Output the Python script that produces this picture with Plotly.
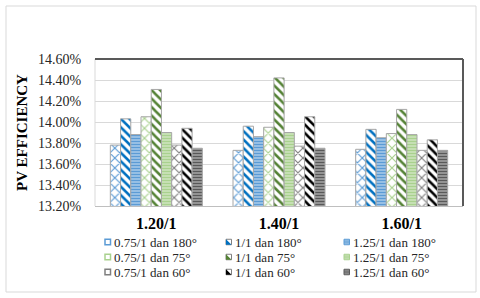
import plotly.graph_objects as go

# ---------------- data ----------------
categories = ["1.20/1", "1.40/1", "1.60/1"]
series_names = ["0.75/1 dan 180°", "1/1 dan 180°", "1.25/1 dan 180°",
                "0.75/1 dan 75°", "1/1 dan 75°", "1.25/1 dan 75°",
                "0.75/1 dan 60°", "1/1 dan 60°", "1.25/1 dan 60°"]
eff_075_180 = [13.78, 13.73, 13.74]
eff_1_180 = [14.03, 13.96, 13.93]
eff_125_180 = [13.88, 13.86, 13.85]
eff_075_75 = [14.05, 13.95, 13.89]
eff_1_75 = [14.31, 14.42, 14.12]
eff_125_75 = [13.90, 13.90, 13.88]
eff_075_60 = [13.78, 13.77, 13.73]
eff_1_60 = [13.94, 14.05, 13.83]
eff_125_60 = [13.75, 13.75, 13.73]
series_values = [eff_075_180, eff_1_180, eff_125_180,
                 eff_075_75, eff_1_75, eff_125_75,
                 eff_075_60, eff_1_60, eff_125_60]
y_tick_values = [13.2, 13.4, 13.6, 13.8, 14.0, 14.2, 14.4, 14.6]
y_tick_labels = [f"{v:.2f}%" for v in y_tick_values]
y_title = "PV EFFICIENCY"

# ---------------- styles ----------------
# (pattern shape, fg colour, bg colour, pattern size, solidity)
styles = [
    ("x", "#5B9BD5", "#FFFFFF", 7, 0.3),
    ("\\", "#0070C0", "#FFFFFF", 6, 0.42),
    ("-", "#5B9BD5", "#A9CBEA", 3, 0.5),
    ("x", "#A9D18E", "#FFFFFF", 7, 0.3),
    ("\\", "#548235", "#FFFFFF", 6, 0.42),
    ("-", "#A9D18E", "#CFE4C0", 3, 0.5),
    ("x", "#7F7F7F", "#FFFFFF", 7, 0.3),
    ("\\", "#000000", "#FFFFFF", 6, 0.42),
    ("-", "#595959", "#A6A6A6", 3, 0.5),
]

W, H = 480, 298
ML, MR, MT, MB = 95, 17, 59, 92
PW, PH = W - ML - MR, H - MT - MB
FONT = "Liberation Serif, Times New Roman, serif"


def px(x):
    return (x - ML) / PW


def py(y):
    return (MT + PH - y) / PH


fig = go.Figure()
for name, vals, (shp, fg, bg, sz, sol) in zip(series_names, series_values, styles):
    fig.add_trace(go.Bar(
        name=name, x=categories, y=vals,
        marker=dict(color=bg,
                    pattern=dict(shape=shp, fgcolor=fg, bgcolor=bg, size=sz,
                                 solidity=sol, fillmode="replace"),
                    line=dict(color="#A6A6A6", width=1)),
        showlegend=False,
    ))

shapes = []
annotations = []
# outer chart border
shapes.append(dict(type="rect", xref="paper", yref="paper",
                   x0=px(6), x1=px(476), y0=py(6), y1=py(292),
                   line=dict(color="#D9D9D9", width=1), layer="below"))
# plot area border: light left, dark top/right
shapes.append(dict(type="line", xref="paper", yref="paper", x0=0, x1=0, y0=0, y1=1,
                   line=dict(color="#D9D9D9", width=1)))
shapes.append(dict(type="line", xref="paper", yref="paper", x0=0, x1=1, y0=1, y1=1,
                   line=dict(color="#595959", width=2)))
shapes.append(dict(type="line", xref="paper", yref="paper", x0=1, x1=1, y0=0, y1=1,
                   line=dict(color="#595959", width=2)))

# manual legend (3 columns x 3 rows, row-major)
col_x = [105, 226, 344]
row_y = [242, 257, 272]
sw = 5.5
for i, (name, (shp, fg, bg, sz, sol)) in enumerate(zip(series_names, styles)):
    r, c = divmod(i, 3)
    x0, yc = col_x[c], row_y[r]
    X0, X1 = px(x0), px(x0 + sw)
    Y0, Y1 = py(yc + sw / 2), py(yc - sw / 2)
    if shp == "x":
        shapes.append(dict(type="rect", xref="paper", yref="paper", x0=X0, x1=X1, y0=Y0, y1=Y1,
                           fillcolor="#FFFFFF", line=dict(color=fg, width=1.5)))
    elif shp == "\\":
        shapes.append(dict(type="rect", xref="paper", yref="paper", x0=X0, x1=X1, y0=Y0, y1=Y1,
                           fillcolor="#FFFFFF", line=dict(color="#808080", width=1)))
        shapes.append(dict(type="path", xref="paper", yref="paper",
                           path=f"M {X0} {Y1} L {X0} {Y0} L {X1} {Y0} Z",
                           fillcolor=fg, line=dict(width=0)))
    else:
        shapes.append(dict(type="rect", xref="paper", yref="paper", x0=X0, x1=X1, y0=Y0, y1=Y1,
                           fillcolor=bg, line=dict(color=fg, width=1)))
        for k in (1, 2):
            yy = py(yc - sw / 2 + k * sw / 3)
            shapes.append(dict(type="line", xref="paper", yref="paper", x0=X0, x1=X1, y0=yy, y1=yy,
                               line=dict(color=fg, width=1)))
    annotations.append(dict(xref="paper", yref="paper", x=px(x0 + sw + 1), y=py(yc),
                            xanchor="left", yanchor="middle", showarrow=False,
                            text=name, font=dict(family=FONT, size=13, color="#262626")))

fig.update_layout(
    width=W, height=H,
    margin=dict(l=ML, r=MR, t=MT, b=MB, autoexpand=False),
    paper_bgcolor="#FFFFFF", plot_bgcolor="#FFFFFF",
    barmode="group", bargap=0.25, bargroupgap=0,
    showlegend=False,
    shapes=shapes, annotations=annotations,
    xaxis=dict(type="category", showgrid=False, zeroline=False,
               showline=True, linecolor="#BFBFBF", linewidth=1,
               ticks="outside", ticklen=3, tickcolor="rgba(0,0,0,0)",
               tickfont=dict(family=FONT, size=16, color="#000000", weight="bold")),
    yaxis=dict(range=[13.2, 14.6], tickvals=y_tick_values, ticktext=y_tick_labels,
               showgrid=True, gridcolor="#D9D9D9", gridwidth=1, zeroline=False,
               showline=False, ticks="outside", ticklen=10, tickcolor="rgba(0,0,0,0)",
               tickfont=dict(family=FONT, size=14, color="#262626"),
               title=dict(text=y_title, standoff=6,
                          font=dict(family=FONT, size=15, color="#000000", weight="bold")),
               automargin=False),
)

fig.write_html("out.html", config={"displayModeBar": False},
               post_script="document.body.style.margin='0px';")
